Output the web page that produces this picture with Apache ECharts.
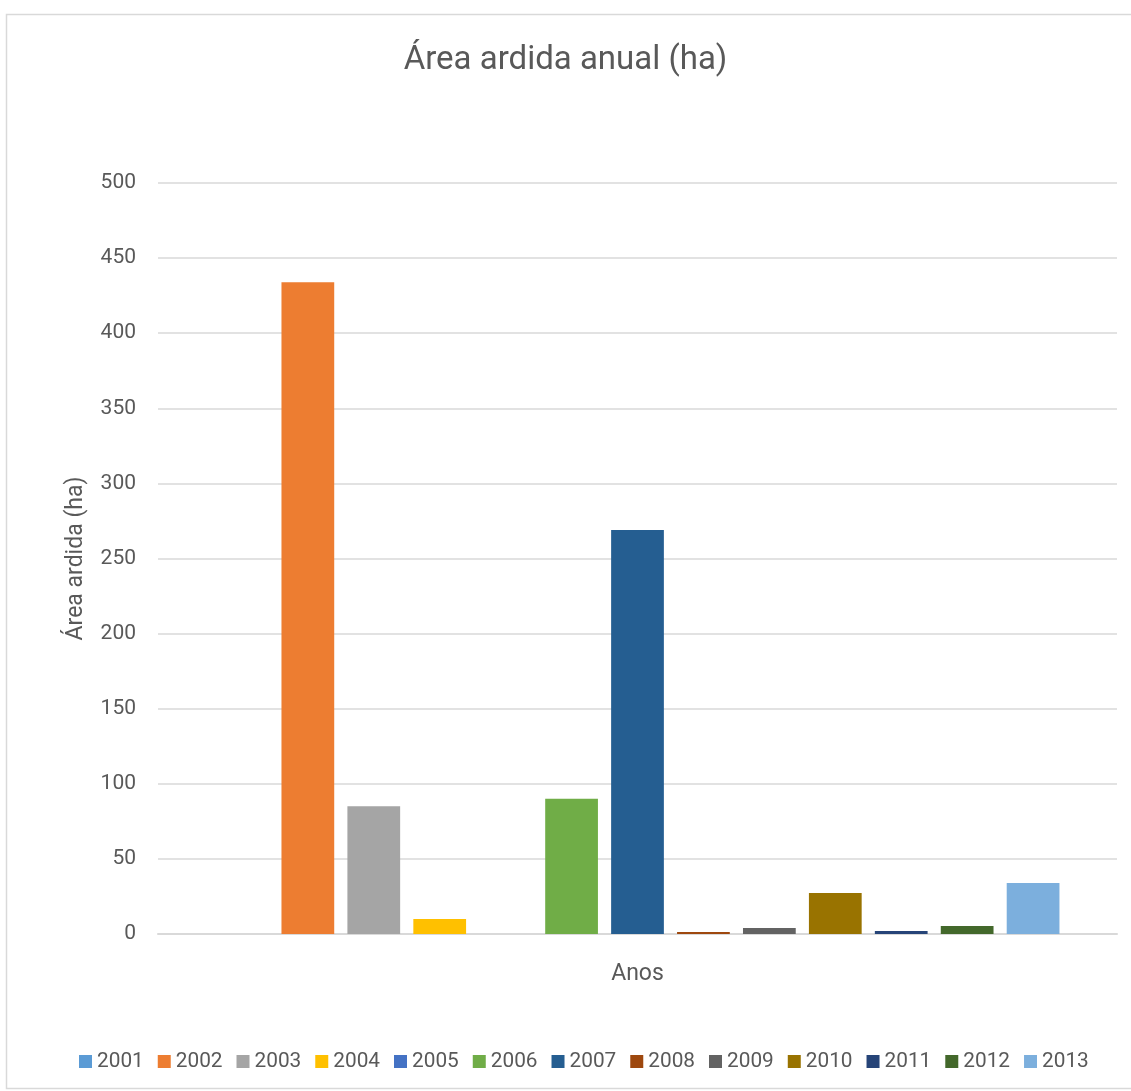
<!DOCTYPE html>
<html>
<head>
<meta charset="utf-8">
<script src="https://cdn.jsdelivr.net/npm/echarts@6/dist/echarts.min.js"></script>
<style>
  html, body { margin: 0; padding: 0; background: #fff; }
  #chart { width: 1131px; height: 1091px; }
</style>
</head>
<body>
<div id="chart"></div>
<script>
// dados
const anos = ['2001', '2002', '2003', '2004', '2005', '2006', '2007', '2008', '2009', '2010', '2011', '2012', '2013']
const areaArdida = [0, 434, 85, 10, 0, 90, 269, 1.3, 4, 27.3, 2, 5.3, 34]
const cores = ['#5B9BD5', '#ED7D31', '#A5A5A5', '#FFC000', '#4472C4', '#70AD47', '#255E91',
  '#9E480E', '#636363', '#997300', '#264478', '#43682B', '#7CAFDD']
const categorias = ['']

const fonte = 'Roboto, "Open Sans", sans-serif'
const cinza = '#595959'

const chart = echarts.init(document.getElementById('chart'))

// uma série por ano, tal como no Excel
const series = anos.map((ano, i) => ({
  name: ano,
  type: 'bar',
  data: [areaArdida[i]],
  itemStyle: { color: cores[i] },
  barGap: '25%',
  barCategoryGap: '12%'
}))

chart.setOption({
  animation: false,
  color: cores,
  title: {
    text: 'Área ardida anual (ha)',
    left: 'center',
    top: 39,
    textStyle: { fontFamily: fonte, fontSize: 33, fontWeight: 'normal', color: cinza }
  },
  legend: {
    bottom: 14,
    left: 74,
    itemWidth: 13,
    itemHeight: 13,
    itemGap: 14,
    icon: 'rect',
    textStyle: { fontFamily: fonte, fontSize: 20.8, color: cinza }
  },
  grid: { left: 158, right: 14, top: 183, bottom: 157, containLabel: false },
  xAxis: {
    type: 'category',
    data: categorias,
    name: 'Anos',
    nameLocation: 'middle',
    nameGap: 29,
    nameTextStyle: { fontFamily: fonte, fontSize: 23, color: cinza },
    axisLine: { lineStyle: { color: '#d9d9d9', width: 2 } },
    axisTick: { show: false },
    axisLabel: { show: false }
  },
  yAxis: {
    type: 'value',
    min: 0,
    max: 500,
    interval: 50,
    name: 'Área ardida (ha)',
    nameLocation: 'middle',
    nameGap: 70,
    nameTextStyle: { fontFamily: fonte, fontSize: 23, color: cinza },
    axisLine: { show: false },
    axisTick: { show: false },
    axisLabel: { fontFamily: fonte, fontSize: 21, color: cinza, margin: 22 },
    splitLine: { lineStyle: { color: '#d9d9d9', width: 1.5 } }
  },
  graphic: [{
    type: 'rect',
    left: 4,
    top: 12,
    shape: { width: 1140, height: 1074 },
    style: { fill: 'none', stroke: '#d9d9d9', lineWidth: 1.5 },
    silent: true
  }],
  series: series
})
</script>
</body>
</html>
